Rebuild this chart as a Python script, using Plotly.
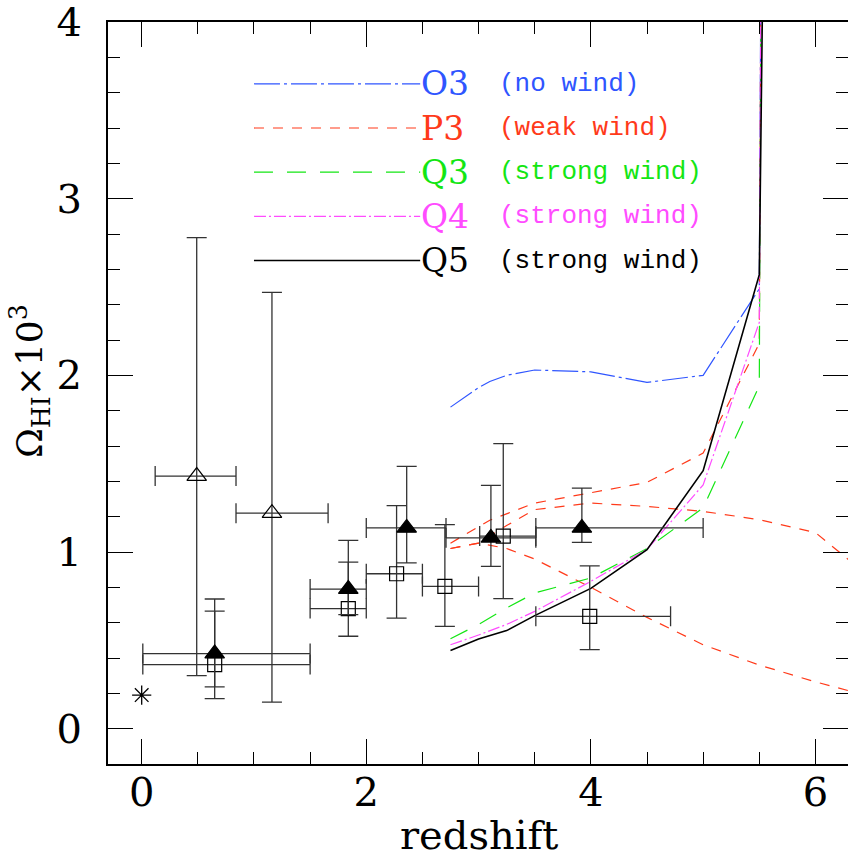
import plotly.graph_objects as go

# ---------------- model curves (redshift, Omega_HI x 10^3) ----------------
z_o3 = [2.75, 3.0, 3.1, 3.25, 3.5, 4.0, 4.5, 5.0, 5.5, 5.52]
om_o3 = [1.82, 1.93, 1.965, 2.0, 2.03, 2.02, 1.96, 2.0, 2.49, 5.0]

z_p3a = [2.75, 3.0, 3.1, 3.5, 4.0, 4.5, 5.0, 5.5, 5.52]
om_p3a = [1.05, 1.14, 1.18, 1.277, 1.335, 1.394, 1.56, 2.18, 5.0]

z_p3b = [2.75, 3.0, 3.25, 3.5, 4.0, 4.5, 5.0, 5.5, 6.0, 6.5]
om_p3b = [1.02, 1.05, 1.15, 1.24, 1.277, 1.258, 1.23, 1.183, 1.11, 0.85]

z_p3c = [2.75, 3.0, 3.25, 3.5, 4.0, 4.5, 5.0, 5.5, 6.0, 6.5]
om_p3c = [1.02, 1.05, 1.02, 0.96, 0.80, 0.63, 0.475, 0.36, 0.265, 0.18]

z_q3 = [2.75, 3.0, 3.25, 3.5, 4.0, 4.5, 5.0, 5.5, 5.52]
om_q3 = [0.509, 0.59, 0.683, 0.768, 0.853, 1.02, 1.25, 1.94, 5.0]

z_q4 = [2.75, 3.0, 3.25, 3.5, 4.0, 4.5, 5.0, 5.5, 5.52]
om_q4 = [0.475, 0.53, 0.59, 0.664, 0.834, 1.015, 1.38, 2.3, 5.0]

z_q5 = [2.75, 3.0, 3.25, 3.5, 4.0, 4.5, 5.0, 5.5, 5.545]
om_q5 = [0.443, 0.507, 0.555, 0.64, 0.794, 1.013, 1.46, 2.57, 5.0]

# ---------------- observations ----------------
tri_open_z = [0.49, 1.16]
tri_open_om = [1.43, 1.22]
tri_open_zlo = [0.12, 0.84]
tri_open_zhi = [0.84, 1.66]
tri_open_omlo = [0.30, 0.15]
tri_open_omhi = [2.78, 2.47]

tri_fill_z = [0.65, 1.84, 2.36, 3.11, 3.92]
tri_fill_om = [0.425, 0.79, 1.136, 1.08, 1.136]
tri_fill_zlo = [0.01, 1.5, 2.0, 2.71, 3.51]
tri_fill_zhi = [1.5, 2.0, 2.71, 3.51, 5.0]
tri_fill_omlo = [0.17, 0.646, 0.938, 0.919, 1.054]
tri_fill_omhi = [0.734, 1.066, 1.485, 1.377, 1.362]

sq_z = [0.65, 1.84, 2.27, 2.70, 3.22, 3.99]
sq_om = [0.363, 0.68, 0.877, 0.805, 1.09, 0.636]
sq_zlo = [0.01, 1.5, 2.0, 2.5, 3.01, 3.51]
sq_zhi = [1.5, 2.0, 2.5, 3.0, 3.51, 4.71]
sq_omlo = [0.237, 0.523, 0.626, 0.579, 0.736, 0.447]
sq_omhi = [0.665, 0.943, 1.262, 1.155, 1.613, 0.922]

local_z = [0.0]
local_om = [0.19]

# legend
leg_names = ["O3", "P3", "Q3", "Q4", "Q5"]
leg_notes = ["(no wind)", "(weak wind)", "(strong wind)", "(strong wind)", "(strong wind)"]
leg_y = [3.65, 3.40, 3.15, 2.90, 2.65]

BLUE = "#2f55ff"
RED = "#ff3a1a"
GREEN = "#14e614"
MAG = "#ff4cff"
BLACK = "#000000"
SERIF = "DejaVu Serif"
MONO = "Liberation Mono"

styles = [
    (BLUE, "26px,4px,3px,4px", 1.2),
    (RED, "10px,9px", 1.2),
    (GREEN, "19px,14px", 1.2),
    (MAG, "12px,3px,2px,3px", 1.2),
    (BLACK, "solid", 1.6),
]

fig = go.Figure()

curves = [
    (z_o3, om_o3, styles[0]),
    (z_p3a, om_p3a, styles[1]),
    (z_p3b, om_p3b, styles[1]),
    (z_p3c, om_p3c, styles[1]),
    (z_q3, om_q3, styles[2]),
    (z_q4, om_q4, styles[3]),
    (z_q5, om_q5, styles[4]),
]
for zz, oo, (col, dash, w) in curves:
    fig.add_trace(go.Scatter(x=zz, y=oo, mode="lines",
                             line=dict(color=col, dash=dash, width=w),
                             showlegend=False, hoverinfo="skip"))


def diff(a, b):
    return [abs(x - y) for x, y in zip(a, b)]


EB = "#333333"


def add_points(zc, oc, zlo, zhi, olo, ohi, symbol, size):
    fig.add_trace(go.Scatter(
        x=zc, y=oc, mode="markers",
        marker=dict(symbol=symbol, size=size, color="black",
                    line=dict(color="black", width=1.2)),
        error_x=dict(type="data", symmetric=False,
                     array=diff(zhi, zc), arrayminus=diff(zc, zlo),
                     color=EB, thickness=1.3, width=10),
        error_y=dict(type="data", symmetric=False,
                     array=diff(ohi, oc), arrayminus=diff(oc, olo),
                     color=EB, thickness=1.3, width=10),
        showlegend=False))


add_points(tri_open_z, tri_open_om, tri_open_zlo, tri_open_zhi,
           tri_open_omlo, tri_open_omhi, "triangle-up-open", 17)
add_points(sq_z, sq_om, sq_zlo, sq_zhi, sq_omlo, sq_omhi, "square-open", 14)
add_points(tri_fill_z, tri_fill_om, tri_fill_zlo, tri_fill_zhi,
           tri_fill_omlo, tri_fill_omhi, "triangle-up", 17)

fig.add_trace(go.Scatter(x=local_z, y=local_om, mode="markers",
                         marker=dict(symbol="asterisk-open", size=16,
                                     color="black",
                                     line=dict(color="black", width=1.3)),
                         showlegend=False))

# dummy trace so mirror axes get drawn
fig.add_trace(go.Scatter(x=[None], y=[None], xaxis="x2", yaxis="y2",
                         showlegend=False, hoverinfo="skip"))

# legend samples
annotations = []
shapes = []
for (col, dash, w), name, note, ly in zip(styles, leg_names, leg_notes, leg_y):
    shapes.append(dict(type="line", xref="x", yref="y", x0=1.0, x1=2.48,
                       y0=ly, y1=ly, line=dict(color=col, dash=dash, width=w)))
    annotations.append(dict(x=2.47, y=ly, xref="x", yref="y", text=name,
                            showarrow=False, xanchor="left", yanchor="middle",
                            font=dict(family=SERIF, size=33, color=col)))
    annotations.append(dict(x=3.16, y=ly, xref="x", yref="y", text=note,
                            showarrow=False, xanchor="left", yanchor="middle",
                            font=dict(family=MONO, size=26, color=col)))

W, H = 848, 861
ML, MT, MB = 108, 22, 97
PLOT_W = W - ML
PLOT_H = H - MT - MB

annotations.append(dict(x=3.0, y=-(MB - 1) / PLOT_H,
                        xref="x", yref="paper",
                        text="redshift", showarrow=False,
                        xanchor="center", yanchor="bottom",
                        font=dict(family=SERIF, size=40, color="black")))
annotations.append(dict(x=(30 - ML) / PLOT_W, y=(764 - 381) / PLOT_H,
                        xref="paper", yref="paper",
                        text="Ω<sub>HI</sub>×10<sup>3</sup>", textangle=-90,
                        showarrow=False, xanchor="center", yanchor="middle",
                        font=dict(family=SERIF, size=36, color="black")))

XR = [-0.3, 6.29]
YR = [-0.2, 4.0]
tickfont = dict(family=SERIF, size=40, color="black")

common_x = dict(range=XR, showgrid=False, zeroline=False, ticks="inside",
                ticklen=25, tickwidth=1, tickcolor="black", dtick=2, tick0=0,
                minor=dict(dtick=0.5, tick0=0, ticks="inside", ticklen=12,
                           tickwidth=1, tickcolor="black", showgrid=False))
common_y = dict(range=YR, showgrid=False, zeroline=False, ticks="inside",
                ticklen=25, tickwidth=1, tickcolor="black", dtick=1, tick0=0,
                minor=dict(dtick=0.2, tick0=0, ticks="inside", ticklen=12,
                           tickwidth=1, tickcolor="black", showgrid=False))

fig.update_layout(
    width=W, height=H,
    margin=dict(l=ML, r=0, t=MT, b=MB),
    paper_bgcolor="white", plot_bgcolor="white",
    showlegend=False,
    xaxis=dict(**common_x, showline=True, linewidth=2, linecolor="black",
               mirror=False, tickfont=tickfont, ticklabelstandoff=-8,
               ticklabeloverflow="allow"),
    yaxis=dict(**common_y, showline=True, linewidth=2, linecolor="black",
               mirror=False, tickfont=tickfont, ticklabelstandoff=16,
               ticklabeloverflow="allow"),
    xaxis2=dict(**common_x, overlaying="x", side="top", anchor="y",
                showline=True, linewidth=2, linecolor="black",
                showticklabels=False),
    yaxis2=dict(**common_y, overlaying="y", side="right", anchor="x",
                showline=False, showticklabels=False),
    shapes=shapes,
    annotations=annotations,
)

fig.write_html(
    "out.html",
    config={"displayModeBar": False},
    post_script="document.body.style.margin='0';"
                "document.body.style.overflow='hidden';"
                "document.documentElement.style.overflow='hidden';",
)
